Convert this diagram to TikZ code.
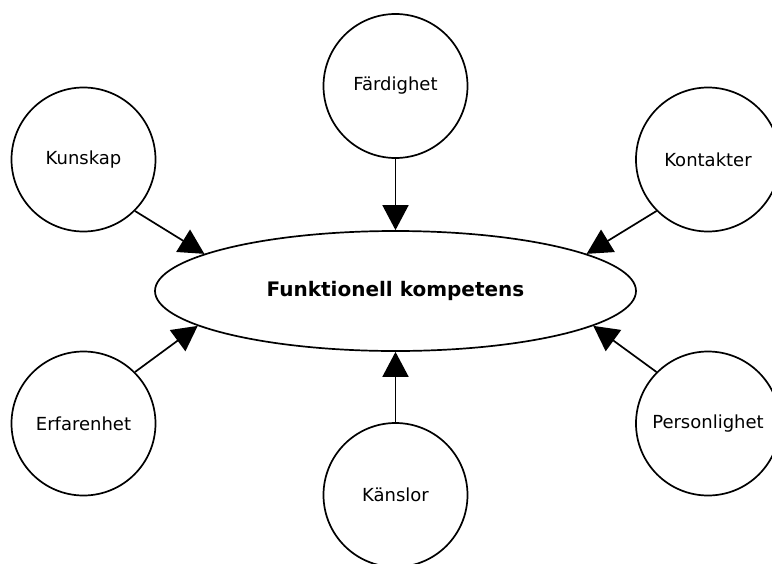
\documentclass[tikz,border=0pt]{standalone}
\usepackage{fontspec}
\setmainfont{DejaVu Sans}
\usetikzlibrary{arrows.meta,shapes.geometric}
\tikzset{
  factor/.style={circle, draw, line width=1.7pt, minimum size=144pt, inner sep=0pt,
    font=\fontsize{18}{22}\selectfont},
  core/.style={ellipse, draw, line width=1.7pt, minimum width=481pt, minimum height=120pt,
    inner sep=0pt, font=\fontsize{20}{24}\selectfont\bfseries},
  feeds/.style={line width=1.7pt, -{Triangle[length=25pt, width=26pt]}}
}
\begin{document}
\begin{tikzpicture}[x=1pt, y=-1pt]
  \path[use as bounding box, clip] (0,0) rectangle (772,563);

  \node[core] (fk) at (395.5,291) {Funktionell kompetens};

  \node[factor] (fard) at (395.5,86)  {Färdighet};
  \node[factor] (kun)  at (83.5,159.5) {Kunskap};
  \node[factor] (kon)  at (708,159.5) {Kontakter};
  \node[factor] (erf)  at (83.5,423.5) {Erfarenhet};
  \node[factor] (per)  at (708,423.5) {Personlighet};
  \node[factor] (kan)  at (395.5,495) {Känslor};

  \draw[feeds] (fard.south) -- (fk.north);
  \draw[feeds] (kan.north)  -- (fk.south);
  \draw[feeds] (kun.-45)    -- (fk.169.4);
  \draw[feeds] (kon.225)    -- (fk.11.1);
  \draw[feeds] (erf.45)     -- (fk.190.6);
  \draw[feeds] (per.135)    -- (fk.-10.5);
\end{tikzpicture}
\end{document}
